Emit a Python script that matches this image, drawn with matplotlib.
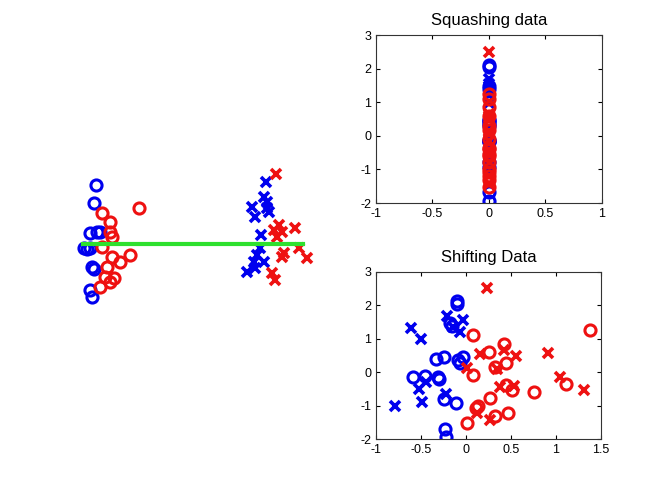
import numpy as np
import matplotlib
matplotlib.use("Agg")
import matplotlib.pyplot as plt

plt.rcParams['font.family'] = ['Liberation Sans', 'DejaVu Sans']
plt.rcParams['axes.unicode_minus'] = False

# left panel: raw 2-cluster data (no axes)
left_blue_o_x = [-1.88, -1.93, -2.01, -1.87, -1.80, -2.13, -2.00, -1.97, -1.93, -2.00, -1.97, -2.07]
left_blue_o_y = [2.36, 1.63, 0.45, 0.49, 0.49, -0.17, -0.17, -0.91, -1.00, -1.84, -2.11, -0.20]
left_red_o_x = [-1.03, -1.77, -1.60, -1.57, -1.77, -1.57, -1.20, -1.40, -1.67, -1.70, -1.53, -1.80, -1.60, -1.60]
left_red_o_y = [1.43, 1.23, 0.89, 0.29, -0.11, -0.51, -0.44, -0.71, -0.91, -1.31, -1.37, -1.71, -1.51, 0.50]
left_blue_x_x = [1.51, 1.47, 1.23, 1.53, 1.53, 1.30, 1.57, 1.41, 1.40, 1.33, 1.27, 1.47, 1.13, 1.30]
left_blue_x_y = [2.47, 1.89, 1.49, 1.69, 1.43, 1.09, 1.29, 0.36, -0.17, -0.44, -0.71, -0.71, -1.11, -0.97]
left_red_x_x = [1.72, 1.77, 1.67, 1.83, 2.10, 1.73, 2.17, 1.83, 2.33, 1.63, 1.70, 1.87]
left_red_x_y = [2.79, 0.76, 0.56, 0.49, 0.63, 0.29, -0.17, -0.51, -0.57, -1.17, -1.44, -0.37]
green_line_x = [-2.14, 2.26]
green_line_y = [0, 0]

# shifted data (right bottom); squashed data uses same y at x = 0
blue_x_x = [-0.61, -0.50, -0.79, -0.49, -0.52, -0.45, -0.21, -0.03, -0.07, -0.14, -0.22]
blue_x_y = [1.32, 0.98, -1.01, -0.88, -0.51, -0.29, 1.68, 1.55, 1.20, 1.35, -0.64]
blue_o_x = [-0.10, -0.10, -0.18, -0.16, -0.33, -0.24, -0.03, -0.07, -0.09, -0.59, -0.46, -0.31, -0.30, -0.25, -0.11, -0.23, -0.22]
blue_o_y = [2.12, 2.05, 1.47, 1.38, 0.41, 0.46, 0.46, 0.28, 0.36, -0.14, -0.12, -0.14, -0.19, -0.79, -0.93, -1.68, -1.93]
red_x_x = [0.23, 0.15, 0.42, 0.56, 0.91, 0.34, 0.38, 0.53, 1.04, 1.31, 0.12, 0.27, 0.01]
red_x_y = [2.50, 0.53, 0.66, 0.48, 0.58, 0.11, -0.44, -0.41, -0.14, -0.52, -1.21, -1.43, 0.13]
red_o_x = [0.08, 0.08, 0.25, 0.42, 0.44, 0.32, 0.44, 0.51, 0.27, 0.13, 0.11, 0.32, 0.47, 0.01, 0.75, 1.11, 1.38]
red_o_y = [1.10, -0.09, 0.60, 0.85, 0.28, 0.16, -0.39, -0.54, -0.77, -1.00, -1.08, -1.31, -1.21, -1.51, -0.59, -0.36, 1.25]

BLUE = '#0000ee'
RED = '#ee1111'
o_style = dict(ls='none', marker='o', ms=8, mfc='none', mew=2.2)
x_style = dict(ls='none', marker='x', ms=6.5, mew=2.6)

fig = plt.figure(figsize=(6.64, 4.84), dpi=100)

# left panel
axl = fig.add_axes([60 / 664, 1 - 320 / 484, 260 / 664, 160 / 484])
axl.plot(left_blue_o_x, left_blue_o_y, color=BLUE, **o_style)
axl.plot(left_red_o_x, left_red_o_y, color=RED, **o_style)
axl.plot(left_blue_x_x, left_blue_x_y, color=BLUE, **x_style)
axl.plot(left_red_x_x, left_red_x_y, color=RED, **x_style)
axl.plot(green_line_x, green_line_y, color='#2ee02e', lw=3)
axl.set_xlim(-2.6, 2.6)
axl.set_ylim(-3.04, 3.36)
axl.axis('off')


def style_axes(ax):
    ax.tick_params(direction='in', top=True, right=True, labelsize=9, length=3)
    for s in ax.spines.values():
        s.set_color('#333333')
        s.set_linewidth(0.8)


# squashing data
ax1 = fig.add_axes([376 / 664, 1 - 203 / 484, 225.5 / 664, 168 / 484])
ax1.plot(np.zeros(len(blue_o_y)), blue_o_y, color=BLUE, **o_style)
ax1.plot(np.zeros(len(blue_x_y)), blue_x_y, color=BLUE, **x_style)
ax1.plot(np.zeros(len(red_o_y)), red_o_y, color=RED, **o_style)
ax1.plot(np.zeros(len(red_x_y)), red_x_y, color=RED, **x_style)
ax1.set_xlim(-1, 1)
ax1.set_ylim(-2, 3)
ax1.set_xticks([-1, -0.5, 0, 0.5, 1])
ax1.set_xticklabels(['-1', '-0.5', '0', '0.5', '1'])
ax1.set_yticks([-2, -1, 0, 1, 2, 3])
ax1.set_title('Squashing data', fontsize=12, pad=7)
style_axes(ax1)

# shifting data
ax2 = fig.add_axes([376 / 664, 1 - 439.3 / 484, 225 / 664, 167.6 / 484])
ax2.plot(blue_o_x, blue_o_y, color=BLUE, **o_style)
ax2.plot(blue_x_x, blue_x_y, color=BLUE, **x_style)
ax2.plot(red_o_x, red_o_y, color=RED, **o_style)
ax2.plot(red_x_x, red_x_y, color=RED, **x_style)
ax2.set_xlim(-1, 1.5)
ax2.set_ylim(-2, 3)
ax2.set_xticks([-1, -0.5, 0, 0.5, 1, 1.5])
ax2.set_xticklabels(['-1', '-0.5', '0', '0.5', '1', '1.5'])
ax2.set_yticks([-2, -1, 0, 1, 2, 3])
ax2.set_title('Shifting Data', fontsize=12, pad=7)
style_axes(ax2)

fig.savefig('out.png', dpi=100)
